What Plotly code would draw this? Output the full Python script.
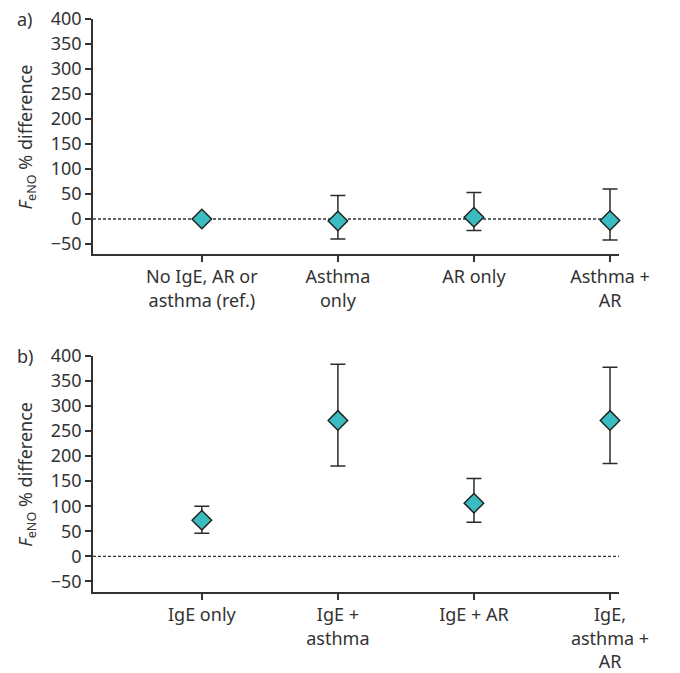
import plotly.graph_objects as go

# Panel a data
cats_a = ["No IgE, AR or<br>asthma (ref.)", "Asthma<br>only", "AR only", "Asthma +<br>AR"]
est_a = [0, -4, 3.5, -3]
upper_a = [0, 47, 53, 60]
lower_a = [0, -40, -23, -42]

# Panel b data
cats_b = ["IgE only", "IgE +<br>asthma", "IgE + AR", "IgE,<br>asthma +<br>AR"]
est_b = [72, 271, 106, 271]
upper_b = [100, 383, 155, 377]
lower_b = [46, 180, 68, 185]

y_ticks = [-50, 0, 50, 100, 150, 200, 250, 300, 350, 400]

FONT = "Source Sans Pro, Noto Sans, sans-serif"
TXT = "#333333"
TEAL = "#3BBCC0"
FS = 18

fig = go.Figure()

def add_panel(cats, est, upper, lower, xa, ya):
    xs = list(range(len(cats)))
    err = dict(type="data", symmetric=False,
               array=[u - e for u, e in zip(upper, est)],
               arrayminus=[e - l for e, l in zip(est, lower)],
               color="#2b2b2b", thickness=1.5, width=7.5)
    fig.add_trace(go.Scatter(
        x=xs, y=est, mode="markers", xaxis=xa, yaxis=ya,
        marker=dict(symbol="diamond", size=15, color=TEAL,
                    line=dict(color="#222222", width=1.5)),
        error_y=err, showlegend=False, cliponaxis=False))

add_panel(cats_a, est_a, upper_a, lower_a, "x", "y")
add_panel(cats_b, est_b, upper_b, lower_b, "x2", "y2")

xrange = [-0.8, 3.066]
common_x = dict(range=xrange, showline=True, linecolor=TXT, linewidth=1.5,
                ticks="outside", ticklen=6, tickcolor=TXT, tickwidth=1.5,
                showgrid=False, zeroline=False, automargin=False,
                tickfont=dict(family=FONT, size=FS, color=TXT))
common_y = dict(showline=True, linecolor=TXT, linewidth=1.5,
                ticks="outside", ticklen=6, tickcolor=TXT, tickwidth=1.5,
                showgrid=False, zeroline=False, automargin=False, tickvals=y_ticks,
                ticktext=[str(v).replace("-", "\u2212") for v in y_ticks],
                tickfont=dict(family=FONT, size=FS, color=TXT))

fig.update_layout(
    width=680, height=673,
    margin=dict(l=93, r=61, t=19, b=81),
    plot_bgcolor="white", paper_bgcolor="white",
    xaxis=dict(common_x, domain=[0, 1], anchor="y", tickvals=[0, 1, 2, 3], ticktext=cats_a),
    yaxis=dict(common_y, domain=[0.5899, 1], anchor="x", range=[-70, 400]),
    xaxis2=dict(common_x, domain=[0, 1], anchor="y2", tickvals=[0, 1, 2, 3], ticktext=cats_b),
    yaxis2=dict(common_y, domain=[0, 0.4124], anchor="x2", range=[-71, 400]),
)

for ya, xa in (("y", "x"), ("y2", "x2")):
    fig.add_shape(type="line", xref=xa, yref=ya, x0=xrange[0], x1=xrange[1], y0=0, y1=0,
                  line=dict(color=TXT, width=1.3, dash="3px,2px"), layer="below")

title = "<i>F</i><sub>eNO</sub> % difference"
for ycen in ((0.5899 + 1) / 2, 0.4124 / 2):
    fig.add_annotation(text=title, xref="paper", yref="paper", x=-0.1255, y=ycen,
                       textangle=-90, xanchor="center", yanchor="middle", showarrow=False,
                       font=dict(family=FONT, size=FS, color=TXT))

fig.add_annotation(text="a)", xref="paper", yref="paper", x=-0.148, y=1.0,
                   xanchor="left", yanchor="middle", showarrow=False,
                   font=dict(family=FONT, size=FS, color=TXT))
fig.add_annotation(text="b)", xref="paper", yref="paper", x=-0.148, y=0.4124,
                   xanchor="left", yanchor="middle", showarrow=False,
                   font=dict(family=FONT, size=FS, color=TXT))

fig.write_html("out.html", config={"displayModeBar": False},
               post_script="document.body.style.margin='0';document.body.style.overflow='hidden';")
